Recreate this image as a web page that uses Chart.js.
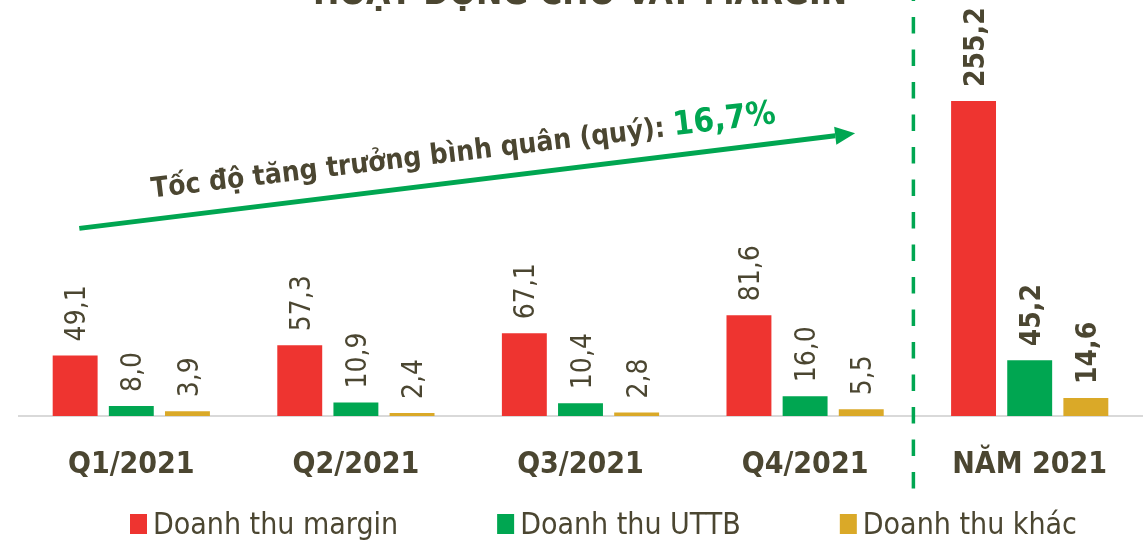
<!DOCTYPE html>
<html lang="vi">
<head>
<meta charset="utf-8">
<title>Hoạt động cho vay margin</title>
<script src="https://cdn.jsdelivr.net/npm/chart.js@4.4.1/dist/chart.umd.min.js"></script>
<style>
html, body { margin: 0; padding: 0; background: #fff; }
#wrap { position: relative; width: 1148px; height: 541px; }
</style>
</head>
<body>
<div id="wrap"><canvas id="myChart"></canvas></div>
<script>
// data
var categories = ['Q1/2021', 'Q2/2021', 'Q3/2021', 'Q4/2021', 'NĂM 2021'];
var margin = [49.1, 57.3, 67.1, 81.6, 255.2];
var uttb = [8.0, 10.9, 10.4, 16.0, 45.2];
var khac = [3.9, 2.4, 2.8, 5.5, 14.6];
var seriesNames = ['Doanh thu margin', 'Doanh thu UTTB', 'Doanh thu khác'];
var chartTitle = 'HOẠT ĐỘNG CHO VAY MARGIN';
var growthText = 'Tốc độ tăng trưởng bình quân (quý): ';
var growthValue = '16,7%';

var FONT = "'DejaVu Sans Condensed', 'Liberation Sans Narrow', 'Liberation Sans', sans-serif";
var TXT = '#4b4631';
var RED = '#ee3430', GREEN = '#00a651', YELLOW = '#daa928';

function fmt(v) { return v.toFixed(1).replace('.', ','); }

var extras = {
  id: 'extras',
  beforeDatasetsDraw: function (chart) {
    var ctx = chart.ctx;
    var xs = chart.scales.x;
    ctx.save();
    // title (cut at the top like the picture)
    ctx.fillStyle = TXT;
    ctx.font = 'bold 35px ' + FONT;
    ctx.textAlign = 'center';
    ctx.textBaseline = 'alphabetic';
    ctx.fillText(chartTitle, 580, 4);
    // dashed separator before the yearly group
    var sx = (xs.getPixelForValue(3) + xs.getPixelForValue(4)) / 2 - 4;
    ctx.strokeStyle = GREEN;
    ctx.lineWidth = 3.5;
    ctx.setLineDash([16.5, 16]);
    ctx.lineDashOffset = 15.5;
    ctx.beginPath();
    ctx.moveTo(sx, 0);
    ctx.lineTo(sx, 492);
    ctx.stroke();
    ctx.restore();
  },
  afterDatasetsDraw: function (chart) {
    var ctx = chart.ctx;
    var xs = chart.scales.x, ys = chart.scales.y;
    ctx.save();
    // value labels, rotated
    chart.data.datasets.forEach(function (ds, i) {
      var meta = chart.getDatasetMeta(i);
      meta.data.forEach(function (bar, j) {
        var size = 28;
        ctx.save();
        ctx.translate(bar.x, bar.y - 14);
        ctx.rotate(-Math.PI / 2);
        ctx.font = (j === 4 ? 'bold ' : '') + size + 'px ' + FONT;
        ctx.fillStyle = TXT;
        ctx.textAlign = 'left';
        ctx.textBaseline = 'alphabetic';
        ctx.fillText(fmt(ds.data[j]), 0, size * 0.36);
        ctx.restore();
      });
    });

    // legend drawn by hand so the spacing can follow the picture
    var lx = 130;
    ctx.font = '30px ' + FONT;
    ctx.textAlign = 'left';
    ctx.textBaseline = 'alphabetic';
    chart.data.datasets.forEach(function (ds) {
      ctx.fillStyle = ds.backgroundColor;
      ctx.fillRect(lx, 514, 17, 20);
      ctx.fillStyle = TXT;
      ctx.fillText(ds.label, lx + 23, 534);
      lx += 23 + ctx.measureText(ds.label).width + 99;
    });

    // growth arrow
    var x0 = xs.getPixelForValue(0) - 52, y0 = ys.getPixelForValue(152);
    var x1 = xs.getPixelForValue(3) + 50, y1 = ys.getPixelForValue(229);
    var ang = Math.atan2(y1 - y0, x1 - x0);
    var head = 20;
    ctx.strokeStyle = GREEN;
    ctx.fillStyle = GREEN;
    ctx.lineWidth = 5;
    ctx.beginPath();
    ctx.moveTo(x0, y0);
    ctx.lineTo(x1 - head * Math.cos(ang), y1 - head * Math.sin(ang));
    ctx.stroke();
    ctx.beginPath();
    ctx.moveTo(x1, y1);
    ctx.lineTo(x1 - head * Math.cos(ang) + 9 * Math.sin(ang), y1 - head * Math.sin(ang) - 9 * Math.cos(ang));
    ctx.lineTo(x1 - head * Math.cos(ang) - 9 * Math.sin(ang), y1 - head * Math.sin(ang) + 9 * Math.cos(ang));
    ctx.closePath();
    ctx.fill();

    // growth text
    ctx.translate(xs.getPixelForValue(0) + 21, ys.getPixelForValue(177));
    ctx.rotate(-6.8 * Math.PI / 180);
    ctx.font = 'bold 28px ' + FONT;
    ctx.fillStyle = TXT;
    ctx.fillText(growthText, 0, 0);
    var w = ctx.measureText(growthText).width;
    ctx.font = 'bold 33px ' + FONT;
    ctx.fillStyle = GREEN;
    ctx.fillText(growthValue, w, 0);
    ctx.restore();
  }
};

var ctx = document.getElementById('myChart').getContext('2d');
var myChart = new Chart(ctx, {
  type: 'bar',
  data: {
    labels: categories,
    datasets: [
      { label: seriesNames[0], data: margin, backgroundColor: RED },
      { label: seriesNames[1], data: uttb, backgroundColor: GREEN },
      { label: seriesNames[2], data: khac, backgroundColor: YELLOW }
    ]
  },
  options: {
    responsive: true,
    maintainAspectRatio: false,
    animation: false,
    layout: { padding: { left: 19, right: 6, top: 0, bottom: 47 } },
    datasets: {
      bar: { categoryPercentage: 0.75, barPercentage: 0.8 }
    },
    scales: {
      x: {
        grid: { display: false, drawTicks: false },
        border: { display: true, color: '#d9d9d9', width: 2 },
        ticks: {
          color: TXT,
          padding: 31,
          font: { family: FONT, size: 30, weight: 'bold' }
        },
        afterFit: function (scale) { scale.height = 78; }
      },
      y: {
        display: false,
        min: 0,
        max: 337
      }
    },
    plugins: {
      tooltip: { enabled: false },
      legend: { display: false }
    }
  },
  plugins: [extras]
});
</script>
</body>
</html>
